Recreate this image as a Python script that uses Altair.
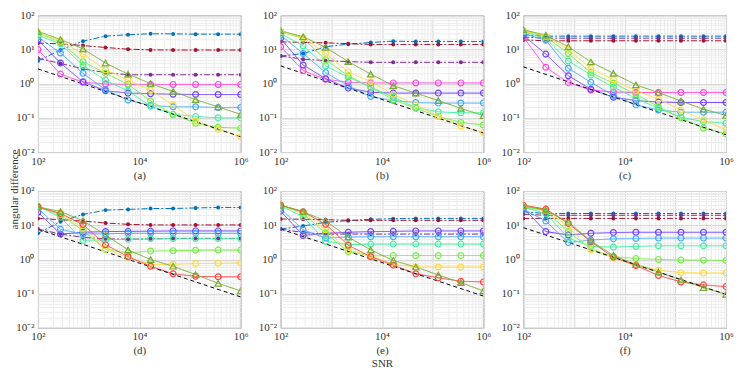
import altair as alt
import pandas as pd

# SNR sample points (logspace 10^2 .. 10^6, 10 points)
SNR = [100, 278, 774, 2154, 5995, 16681, 46416, 129155, 359381, 1000000]
SNR_ENDS = [100, 1000000]

SERIES = ["blue_f", "red_f", "purple_f", "magenta", "violet", "blue", "aqua",
          "green", "yellow", "red", "tri", "crb"]
COLORS = ["#0072BD", "#A2142F", "#7E2F8E", "#FF40E0", "#7040FF", "#40A8FF",
          "#40F0A0", "#70F040", "#FFD840", "#FF4040", "#77AC30", "#000000"]
KINDS = ["dot", "dot", "dot", "circle", "circle", "circle", "circle",
         "circle", "circle", "circle", "tri", "none"]
DASHES = [[6, 2, 2, 2]] * 3 + [[1, 0]] * 8 + [[4, 3]]

PANEL_A = {
    "blue_f":   [4.6, 9.7, 17.5, 24.5, 27, 28.7, 28.5, 28, 28, 28],
    "red_f":    [15.3, 14.6, 13.0, 11.4, 10.2, 9.7, 9.6, 9.6, 9.6, 9.6],
    "purple_f": [5.5, 3.9, 2.7, 2.1, 1.82, 1.82, 1.82, 1.82, 1.82, 1.82],
    "magenta":  [10, 1.9, 1.1, 0.98, 0.95, 0.95, 0.95, 0.95, 0.95, 0.95],
    "violet":   [19, 4.0, 1.13, 0.62, 0.53, 0.51, 0.49, 0.48, 0.48, 0.48],
    "blue":     [23, 7.9, 2.0, 0.66, 0.33, 0.23, 0.21, 0.21, 0.2, 0.2],
    "aqua":     [26, 14.6, 3.4, 1.25, 0.61, 0.22, 0.126, 0.11, 0.1, 0.1],
    "green":    [30, 16.4, 4.4, 2.0, 0.96, 0.31, 0.126, 0.07, 0.053, 0.05],
    "yellow":   [31, 17.5, 7.4, 2.5, 1.27, 0.64, 0.24, 0.08, 0.046, 0.028],
    "tri":      [33.7, 19.6, 10.4, 4.0, 1.9, 1.0, 0.59, 0.34, 0.21, 0.126],
    "crb":      [2.7, 0.028],
}
PANEL_B = {
    "blue_f":   [6.4, 7.6, 12, 14.3, 16, 17.5, 17, 17, 17, 17],
    "red_f":    [16.7, 16, 15.6, 14.7, 14, 14, 14, 14, 14, 14],
    "purple_f": [6.4, 5.2, 4.7, 4.4, 4.2, 4.2, 4.2, 4.2, 4.2, 4.2],
    "magenta":  [12, 2.4, 1.34, 1.1, 1.05, 1.05, 1.05, 1.05, 1.05, 1.05],
    "violet":   [21, 3.5, 1.4, 0.74, 0.56, 0.53, 0.53, 0.53, 0.53, 0.53],
    "blue":     [26, 7.6, 2.1, 0.86, 0.42, 0.32, 0.28, 0.27, 0.27, 0.27],
    "aqua":     [29, 12.8, 3.3, 1.54, 0.79, 0.4, 0.2, 0.15, 0.14, 0.14],
    "green":    [33, 21, 5.0, 1.7, 0.78, 0.34, 0.19, 0.11, 0.073, 0.062],
    "yellow":   [33, 22, 7.7, 2.2, 1.15, 0.49, 0.24, 0.11, 0.057, 0.037],
    "tri":      [35, 23.5, 11.5, 4.4, 1.9, 0.87, 0.53, 0.32, 0.19, 0.116],
    "crb":      [3.3, 0.036],
}
PANEL_C = {
    "blue_f":   [27, 24.5, 24.5, 24.5, 24.5, 24.5, 24.5, 24.5, 24.5, 24.5],
    "red_f":    [19, 17.9, 17.9, 17.9, 17.9, 17.9, 17.9, 17.9, 17.9, 17.9],
    "purple_f": [23, 21.4, 21.4, 21.4, 21.4, 21.4, 21.4, 21.4, 21.4, 21.4],
    "magenta":  [23, 3.0, 1.07, 0.65, 0.57, 0.55, 0.55, 0.55, 0.55, 0.55],
    "violet":   [26, 7.3, 1.7, 0.69, 0.4, 0.32, 0.29, 0.28, 0.28, 0.28],
    "blue":     [29, 18.7, 2.8, 1.1, 0.45, 0.24, 0.17, 0.146, 0.146, 0.146],
    "aqua":     [33, 21, 4.6, 1.8, 0.79, 0.37, 0.19, 0.104, 0.077, 0.07],
    "green":    [36, 23.4, 7.6, 2.1, 1.03, 0.49, 0.21, 0.1, 0.05, 0.034],
    "yellow":   [35, 24.5, 10, 2.8, 1.3, 0.63, 0.35, 0.17, 0.088, 0.045],
    "tri":      [38, 26, 12, 4.3, 2.0, 0.92, 0.55, 0.31, 0.18, 0.117],
    "crb":      [3.1, 0.032],
}
PANEL_D = {
    "blue_f":   [5.8, 12.7, 20.7, 27.6, 28.9, 30.8, 30.8, 32, 33, 33],
    "red_f":    [15.8, 14.5, 13.3, 11.6, 10.6, 10.2, 10.2, 10.2, 10.2, 10.2],
    "purple_f": [7.7, 5.5, 4.4, 4.0, 3.9, 4.0, 4.1, 4.1, 4.1, 4.1],
    "violet":   [24, 5.5, 6.2, 6.5, 6.6, 6.7, 6.8, 6.8, 6.8, 6.8],
    "blue":     [31, 7.6, 5.5, 5.6, 5.8, 5.8, 5.8, 5.8, 5.8, 5.8],
    "aqua":     [36, 17, 3.6, 3.7, 3.9, 4.0, 4.1, 4.1, 4.1, 4.1],
    "green":    [35, 20, 7, 1.95, 1.55, 1.75, 1.8, 1.85, 1.87, 1.87],
    "yellow":   [34, 22, 8, 2.0, 1.16, 0.71, 0.72, 0.76, 0.77, 0.78],
    "red":      [34, 22, 10.5, 2.7, 1.2, 0.63, 0.38, 0.32, 0.31, 0.31],
    "tri":      [34.4, 25, 13.5, 5.2, 1.9, 0.99, 0.63, 0.36, 0.2, 0.12],
    "crb":      [7.6, 0.08],
}
PANEL_E = {
    "blue_f":   [7.7, 9.5, 12.2, 13.6, 14.9, 15.5, 15.8, 15.8, 15.8, 15.8],
    "red_f":    [15.2, 14.9, 14.5, 13.9, 13.9, 13.9, 13.9, 13.9, 13.9, 13.9],
    "purple_f": [7.7, 6.1, 5.5, 5.5, 5.5, 5.5, 5.5, 5.5, 5.5, 5.5],
    "violet":   [25.8, 5.0, 5.8, 6.2, 6.5, 6.6, 6.8, 6.8, 6.8, 6.8],
    "blue":     [30.8, 7.3, 4.2, 4.5, 4.6, 4.6, 4.6, 4.6, 4.6, 4.6],
    "aqua":     [36.8, 17.7, 3.4, 2.7, 2.8, 2.8, 2.8, 2.8, 2.8, 2.8],
    "green":    [38.6, 22, 5.8, 1.7, 1.27, 1.3, 1.3, 1.3, 1.3, 1.3],
    "yellow":   [38.6, 23.7, 7.3, 1.9, 1.3, 0.71, 0.6, 0.6, 0.6, 0.6],
    "red":      [38.6, 24.7, 10.6, 2.6, 1.2, 0.68, 0.38, 0.29, 0.23, 0.22],
    "tri":      [38.6, 24.7, 13.3, 4.5, 1.9, 0.93, 0.6, 0.35, 0.21, 0.12],
    "crb":      [7.7, 0.085],
}
PANEL_F = {
    "blue_f":   [24.7, 22, 22, 22, 22, 22, 22, 22, 22, 22],
    "red_f":    [15.8, 15.8, 15.8, 15.8, 15.8, 15.8, 15.8, 15.8, 15.8, 15.8],
    "purple_f": [21, 19.5, 19.5, 19.5, 19.5, 19.5, 19.5, 19.5, 19.5, 19.5],
    "violet":   [32, 6.5, 5.2, 5.8, 6.1, 6.2, 6.2, 6.2, 6.2, 6.2],
    "blue":     [29, 13.3, 3.1, 3.7, 4.0, 4.1, 4.2, 4.2, 4.2, 4.2],
    "aqua":     [34, 22, 4.2, 2.4, 2.3, 2.4, 2.5, 2.5, 2.5, 2.5],
    "green":    [35, 26, 6.5, 2.0, 1.2, 1.06, 1.0, 0.96, 0.95, 0.93],
    "yellow":   [37, 28, 9, 1.9, 1.1, 0.7, 0.48, 0.41, 0.4, 0.4],
    "red":      [38.6, 29.5, 11.3, 3.3, 1.17, 0.66, 0.34, 0.22, 0.18, 0.16],
    "tri":      [36.8, 27.6, 12.2, 3.5, 1.3, 0.7, 0.43, 0.25, 0.15, 0.095],
    "crb":      [8.5, 0.095],
}

X_TICKS = [m * 10 ** e for e in range(2, 6) for m in range(1, 10)] + [1000000]
Y_TICKS = [round(m * 10.0 ** e, 6) for e in range(-2, 2) for m in range(1, 10)] + [100]

FONT = "Liberation Serif"
KIND_OF = dict(zip(SERIES, KINDS))


def make_df(panel):
    rows = []
    for name, vals in panel.items():
        xs = SNR_ENDS if name == "crb" else SNR
        for x, v in zip(xs, vals):
            rows.append({"snr": x, "val": v, "series": name, "kind": KIND_OF[name]})
    return pd.DataFrame(rows)


DECADE = "abs(log(datum.value)/LN10 - round(log(datum.value)/LN10)) < 0.001"
GRID_COLOR = {"condition": {"test": DECADE, "value": "#d4d4d4"}, "value": "#ececec"}

X_LABELS = ("datum.value == 100 ? '10\u00b2' : datum.value == 10000 ? '10\u2074' : "
            "datum.value == 1000000 ? '10\u2076' : ''")
Y_LABELS = ("datum.value == 100 ? '10\u00b2' : datum.value == 10 ? '10\u00b9' : "
            "datum.value == 1 ? '10\u2070' : datum.value == 0.1 ? '10\u207b\u00b9' : "
            "datum.value == 0.01 ? '10\u207b\u00b2' : ''")


def panel(data, xtitle, ytitle=None):
    df = make_df(data)
    base = alt.Chart(df)
    xaxis = alt.Axis(values=X_TICKS, labelExpr=X_LABELS, grid=True, gridColor=GRID_COLOR,
                     ticks=False, domain=False, labelFont=FONT, labelFontSize=11,
                     labelColor="#333333", labelPadding=3, labelFlush=False,
                     labelOverlap=False, title=xtitle, titleFont=FONT,
                     titleFontSize=11, titleFontWeight="normal", titleColor="#333333",
                     titlePadding=3)
    yargs = dict(values=Y_TICKS, labelExpr=Y_LABELS, grid=True, gridColor=GRID_COLOR,
                 ticks=False, domain=False, labelFont=FONT, labelFontSize=11,
                 labelColor="#333333", labelPadding=4, labelFlush=False,
                 labelOverlap=False)
    if ytitle:
        yargs.update(title=ytitle, titleFont=FONT, titleFontSize=11,
                     titleFontWeight="normal", titleColor="#333333", titleAngle=270,
                     titleAlign="center", titleBaseline="middle", titleX=-23, titleY=-2)
    else:
        yargs.update(title=None)
    yaxis = alt.Axis(**yargs)
    x = alt.X("snr:Q", scale=alt.Scale(type="log", domain=[100, 1000000], nice=False),
              axis=xaxis)
    y = alt.Y("val:Q", scale=alt.Scale(type="log", domain=[0.01, 100], nice=False),
              axis=yaxis)
    color = alt.Color("series:N", scale=alt.Scale(domain=SERIES, range=COLORS), legend=None)
    dash = alt.StrokeDash("series:N", scale=alt.Scale(domain=SERIES, range=DASHES),
                          legend=None)
    lines = base.mark_line(strokeWidth=1, clip=True).encode(x=x, y=y, color=color,
                                                             strokeDash=dash)
    dots = base.transform_filter(alt.datum.kind == "dot").mark_point(
        shape="circle", filled=True, size=16, opacity=1, clip=True).encode(
        x=x, y=y, color=color)
    circles = base.transform_filter(alt.datum.kind == "circle").mark_point(
        shape="circle", filled=False, size=34, strokeWidth=1.2, opacity=1, clip=True).encode(
        x=x, y=y, color=color)
    tris = base.transform_filter(alt.datum.kind == "tri").mark_point(
        shape="triangle-up", filled=False, size=40, strokeWidth=1.2, opacity=1, clip=True).encode(
        x=x, y=y, color=color)
    return alt.layer(lines, dots, circles, tris).properties(width=203, height=137)


a = panel(PANEL_A, "(a)")
b = panel(PANEL_B, "(b)")
c = panel(PANEL_C, "(c)")
d = panel(PANEL_D, "(d)", ytitle="angular difference")
e = panel(PANEL_E, ["(e)", "SNR"])
f = panel(PANEL_F, "(f)")

chart = alt.concat(a, b, c, d, e, f, columns=3, spacing={"row": 39, "column": 40},
                   bounds="flush").properties(
    padding={"left": 0, "top": 0, "right": 5, "bottom": 5},
    background="white",
).configure_view(stroke="#8c8c8c", strokeWidth=1)

chart.save("out.html", embed_options={"renderer": "svg", "actions": False})
